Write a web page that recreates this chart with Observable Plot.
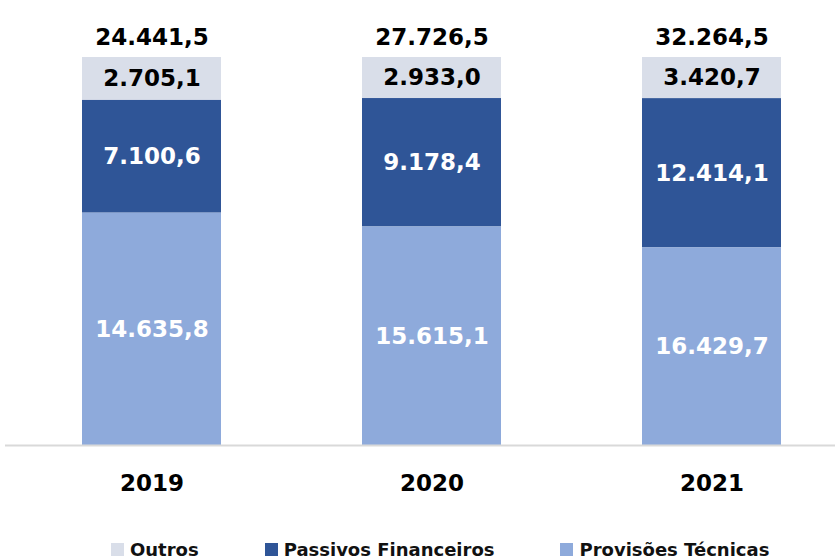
<!DOCTYPE html>
<html>
<head>
<meta charset="utf-8">
<script src="https://cdn.jsdelivr.net/npm/d3@7"></script>
<script src="https://cdn.jsdelivr.net/npm/@observablehq/plot@0.6"></script>
<style>
  body { margin: 0; background: #fff; font-family: "DejaVu Sans", sans-serif; }
  #chart { width: 840px; height: 560px; position: relative; overflow: hidden; }
  .legend { display: flex; align-items: center; height: 35px; margin-top: 7px; padding-left: 111px; gap: 66px; font: bold 18px "DejaVu Sans", sans-serif; color: #111; }
  .legend .item { display: flex; align-items: center; }
  .legend .sw { width: 13px; height: 13px; margin-right: 6px; display: inline-block; }
</style>
</head>
<body>
<div id="chart"></div>
<script>
const years = ["2019", "2020", "2021"];
const series = ["Outros", "Passivos Financeiros", "Provisões Técnicas"];
const outros = [2705.1, 2933.0, 3420.7];
const passivos = [7100.6, 9178.4, 12414.1];
const provisoes = [14635.8, 15615.1, 16429.7];
const totals = [24441.5, 27726.5, 32264.5];
const colors = ["#d9dee9", "#2f5597", "#8eaadb"];
const labelColors = ["#000000", "#ffffff", "#ffffff"];

const values = [outros, passivos, provisoes];
const data = [];
series.forEach((s, i) => years.forEach((y, j) => data.push({year: y, series: s, value: values[i][j]})));
const totalData = years.map((y, j) => ({year: y, total: totals[j]}));

const fmt = d3.formatLocale({decimal: ",", thousands: ".", grouping: [3]}).format(",.1f");
const order = ["Provisões Técnicas", "Passivos Financeiros", "Outros"];
const font = "DejaVu Sans, sans-serif";

const plot = Plot.plot({
  width: 840,
  height: 525,
  marginTop: 57,
  marginBottom: 80,
  marginLeft: 5,
  marginRight: 5,
  style: {fontFamily: font, background: "#fff"},
  x: {domain: years, range: [11, 851], paddingInner: 0.505, paddingOuter: 0.25, label: null},
  y: {axis: null},
  color: {domain: series, range: colors},
  marks: [
    Plot.barY(data, Plot.stackY({x: "year", y: "value", z: "series", fill: "series", order, offset: "normalize"})),
    Plot.ruleY([0], {stroke: "#d9d9d9", strokeWidth: 2}),
    Plot.text(data, Plot.stackY({
      x: "year", y: "value", z: "series", order, offset: "normalize",
      text: d => fmt(d.value),
      fill: d => labelColors[series.indexOf(d.series)],
      fontSize: 23, fontWeight: "bold"
    })),
    Plot.text(totalData, {x: "year", text: d => fmt(d.total), frameAnchor: "top", dy: -29, fontSize: 23, fontWeight: "bold", fill: "#000"}),
    Plot.axisX({tickSize: 0, tickPadding: 29, fontSize: 23, fontWeight: "bold", label: null, color: "#000"})
  ]
});

const chart = document.getElementById("chart");
chart.appendChild(plot);

const legend = document.createElement("div");
legend.className = "legend";
series.forEach((s, i) => {
  const item = document.createElement("div");
  item.className = "item";
  const sw = document.createElement("span");
  sw.className = "sw";
  sw.style.background = colors[i];
  const t = document.createElement("span");
  t.textContent = s;
  item.appendChild(sw);
  item.appendChild(t);
  legend.appendChild(item);
});
chart.appendChild(legend);
</script>
</body>
</html>
